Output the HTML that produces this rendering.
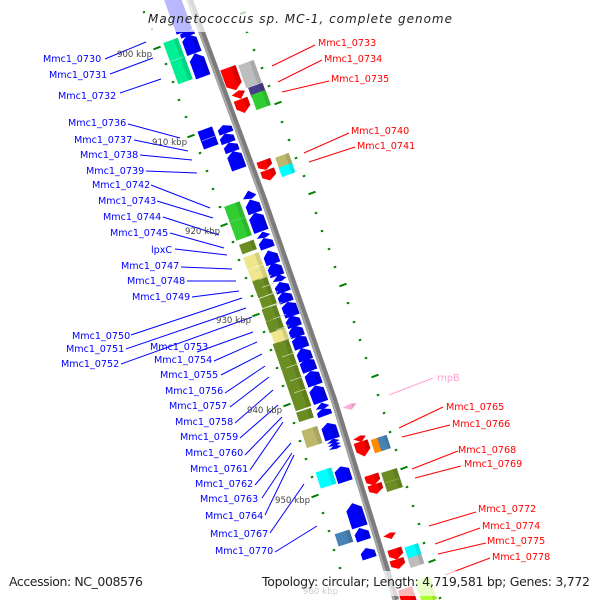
<!DOCTYPE html>
<html><head><meta charset="utf-8"><style>
html,body{margin:0;padding:0;background:#fff}
svg{display:block}
text{font-family:"DejaVu Sans","Liberation Sans",sans-serif}
.l text{font-size:9.6px}
.k text{font-size:8.6px;fill:#444}
</style></head><body>
<svg width="600" height="600" viewBox="0 0 600 600" xmlns="http://www.w3.org/2000/svg">
<defs>
<g id="a"><polygon points="-.54,.5 -.54,-.25 0,-.5 .54,-.25 .54,.5"/><polygon points=".2,.5 .2,-.35 .54,-.25 .54,.5" fill="#000" opacity=".15"/></g>
<g id="s"><polygon points="-.56,.55 -.56,-.1 -.05,-.55 .56,-.1 .56,.55"/><polygon points=".2,.55 .2,-.25 .56,-.1 .56,.55" fill="#000" opacity=".15"/></g>
<g id="t"><polygon points="-.55,.25 .05,-.55 .55,.25 .1,.55"/><polygon points=".2,.5 .1,-.3 .55,.25" fill="#000" opacity=".12"/></g>
<g id="r"><rect x="-.55" y="-.5" width="1.1" height="1"/><rect x=".25" y="-.5" width=".3" height="1" fill="#000" opacity=".1"/></g>
</defs>

<!-- ticks -->
<g stroke="#008000" stroke-width="2" id="ticks" fill="none">
<path d="M143 12.5l2-.7M151 29.5l2-.7M164.800 64.500l2.400-.9M171.800 82.500l2.400-.9M177.800 100.500l2.400-.9M184.800 117.500l2.400-.9M198.800 153.500l2.400-.9M205.800 171.500l2.400-.9M211.800 189.500l2.400-.9M218.800 207.500l2.400-.9M231.800 242.500l2.400-.9M237.800 260.500l2.400-.9M244.800 278.500l2.400-.9M250.800 296.500l2.400-.9M262.800 332.500l2.400-.9M269.800 350.500l2.400-.9M275.800 368.500l2.400-.9M281.800 386.500l2.400-.9M292.800 423.500l2.400-.9M298.800 441.500l2.400-.9M304.800 459.500l2.400-.9M310.800 477.500l2.400-.9M321.800 513.500l2.400-.9M327.800 531.500l2.400-.9M332.800 550.500l2.400-.9M338.800 568.500l2.400-.9"/>
<path d="M245.800 32.500l2.400-.9M252.800 50.500l2.400-.9M260.800 68.500l2.400-.9M267.800 86.500l2.400-.9M280.800 122.500l2.400-.9M287.800 140.500l2.400-.9M294.800 158.500l2.400-.9M302.800 176.500l2.400-.9M314.800 213.500l2.400-.9M320.800 231.500l2.400-.9M327.800 249.500l2.400-.9M333.800 267.500l2.400-.9M346.800 303.500l2.400-.9M352.800 322.500l2.400-.9M358.800 340.500l2.400-.9M364.800 358.500l2.400-.9M376.800 395.500l2.400-.9M382.800 413.500l2.400-.9M388.800 432.500l2.400-.9M394.800 450.500l2.400-.9M405.800 487.500l2.400-.9M411.800 506.500l2.400-.9M417.800 524.500l2.400-.9M422.800 543.500l2.400-.9M438.800 598.500l2.400-.9"/>
<path d="M153.500 49.300l7-2.600M187.500 137.300l7-2.600M220.500 226.300l7-2.600M252.500 316.300l7-2.600M283.500 406.300l7-2.600M311.500 497.300l7-2.600M274.500 104.300l7-2.600M308.500 194.300l7-2.600M339.500 286.300l7-2.600M371.500 377.300l7-2.600M400.500 469.300l7-2.600M428.500 562.300l7-2.600M240 14l6-2"/>
</g>

<!-- axis -->
<path d="M188 -5L264 200L334 400L396 600" fill="none" stroke="#7c7c7c" stroke-width="6.500"/>
<path d="M186 -5L262 200L332 400L394 600" fill="none" stroke="#a8a8a8" stroke-width="2"/>

<!-- genes left, blue -->
<g fill="#0000ff">
<use href="#r" transform="translate(178 14) rotate(-20) scale(15 38)"/>
<use href="#s" transform="translate(187 33) rotate(-20) scale(13 6)"/>
<use href="#a" transform="translate(191 44) rotate(-20) scale(14 20)"/>
<use href="#a" transform="translate(199 65) rotate(-20) scale(14 25)"/>
<use href="#s" transform="translate(225 129) rotate(-20) scale(13 8)"/>
<use href="#s" transform="translate(227 138) rotate(-20) scale(13 9)"/>
<use href="#s" transform="translate(231 147) rotate(-20) scale(13 9)"/>
<use href="#a" transform="translate(236 160) rotate(-20) scale(14 19)"/>
<use href="#t" transform="translate(249 195) rotate(-20) scale(13 8)"/>
<use href="#s" transform="translate(253 206) rotate(-20) scale(13 13)"/>
<use href="#a" transform="translate(258 222) rotate(-20) scale(14 20)"/>
<use href="#t" transform="translate(263 235) rotate(-20) scale(13 6)"/>
<use href="#s" transform="translate(266 243) rotate(-20) scale(13 10)"/>
<use href="#s" transform="translate(271 257) rotate(-20) scale(13 13)"/>
<use href="#s" transform="translate(275 269) rotate(-20) scale(13 13)"/>
<use href="#t" transform="translate(279 278) rotate(-20) scale(13 7)"/>
<use href="#s" transform="translate(282 287) rotate(-20) scale(13 10)"/>
<use href="#s" transform="translate(285 297) rotate(-20) scale(13 10)"/>
<use href="#a" transform="translate(290 309) rotate(-20) scale(14 15)"/>
<use href="#s" transform="translate(293 321) rotate(-20) scale(13 11)"/>
<use href="#s" transform="translate(296 331) rotate(-20) scale(13 11)"/>
<use href="#a" transform="translate(300 342) rotate(-20) scale(14 13)"/>
<use href="#s" transform="translate(304 354) rotate(-20) scale(13 12)"/>
<use href="#a" transform="translate(308 365) rotate(-20) scale(14 13)"/>
<use href="#a" transform="translate(313 378) rotate(-20) scale(14 15)"/>
<use href="#a" transform="translate(318 394) rotate(-20) scale(14 18)"/>
<use href="#t" transform="translate(322 406) rotate(-20) scale(13 6)"/>
<use href="#s" transform="translate(324 412) rotate(-20) scale(13 7)"/>
<use href="#a" transform="translate(330 431) rotate(-18) scale(14 17)"/>
<use href="#t" transform="translate(333 441) rotate(-18) scale(12 4)"/>
<use href="#t" transform="translate(334 444) rotate(-18) scale(12 4)"/>
<use href="#t" transform="translate(335 447) rotate(-18) scale(12 4)"/>
<use href="#a" transform="translate(343 474) rotate(-18) scale(14 16)"/>
<use href="#a" transform="translate(356 515) rotate(-18) scale(15 25)"/>
<use href="#s" transform="translate(362 534) rotate(-18) scale(13 12)"/>
<use href="#s" transform="translate(368 553) rotate(-18) scale(13 10)"/>
</g>

<!-- genes left, rectangles -->
<use href="#r" fill="#00ee94" transform="translate(178 61) rotate(-20) scale(14 44)"/>
<path d="M169 62l14-5" stroke="#7ff0c8" stroke-width=".7"/>
<use href="#r" fill="#0000ff" transform="translate(208 138) rotate(-20) scale(14 19)"/>
<path d="M202 141l13-5" stroke="#9a9aff" stroke-width=".7"/>
<use href="#r" fill="#32cd32" transform="translate(238 221) rotate(-20) scale(15 36)"/>
<path d="M231 222l14-5" stroke="#7fe07f" stroke-width=".5"/>
<use href="#r" fill="#6b8e23" transform="translate(248 247) rotate(-20) scale(14 10)"/>
<use href="#r" fill="#f0e68c" transform="translate(253 261) rotate(-20) scale(15 13)"/>
<use href="#r" fill="#f0e68c" transform="translate(258 274) rotate(-20) scale(15 14)"/>
<use href="#r" fill="#6b8e23" transform="translate(261 283) rotate(-20) scale(14 9)"/>
<use href="#r" fill="#6b8e23" transform="translate(264 291) rotate(-20) scale(14 10)"/>
<use href="#r" fill="#6b8e23" transform="translate(268 301) rotate(-20) scale(14 10)"/>
<use href="#r" fill="#6b8e23" transform="translate(271 313) rotate(-20) scale(14 13)"/>
<use href="#r" fill="#6b8e23" transform="translate(275 325) rotate(-20) scale(14 12)"/>
<use href="#r" fill="#f0e68c" transform="translate(280 336) rotate(-20) scale(14 12)"/>
<use href="#r" fill="#6b8e23" transform="translate(292 375) rotate(-19) scale(15 71)"/>
<g stroke="#c9d6a5" stroke-width=".7">
<path d="M256 271.500l13-4.500M259 279.500l12.500-4.500M262 287.500l12.500-4.500M265 296l13-4.500M269 307l13-4.500M273 319l13-4.500M276 330l13-4.500M279 342l13-4.500"/>
<path d="M282 357l13-4.500M286 368l13-4.500M290 381l13-4.500M294 393l13-4.500"/>
</g>
<use href="#r" fill="#6b8e23" transform="translate(305 415) rotate(-18) scale(14 10)"/>
<use href="#r" fill="#bdb76b" transform="translate(312 437) rotate(-18) scale(15 18)"/>
<use href="#r" fill="#00ffff" transform="translate(326 478) rotate(-18) scale(15 17)"/>
<use href="#r" fill="#4682b4" transform="translate(344 538) rotate(-18) scale(14 13)"/>

<!-- genes right, red -->
<g fill="#ff0000">
<use href="#a" transform="translate(232 79) rotate(-20) scale(15 -24)"/>
<use href="#t" transform="translate(239 95) rotate(-20) scale(13 -8)"/>
<use href="#s" transform="translate(243 106) rotate(-20) scale(13 -13)"/>
<use href="#s" transform="translate(265 165) rotate(-20) scale(13 -9)"/>
<use href="#s" transform="translate(269 175) rotate(-20) scale(13 -10)"/>
<use href="#t" transform="translate(360 439) rotate(-18) scale(12 -6)"/>
<use href="#s" transform="translate(363 449) rotate(-18) scale(13 -14)"/>
<use href="#s" transform="translate(373 480) rotate(-18) scale(13 -10)"/>
<use href="#s" transform="translate(376 489) rotate(-18) scale(13 -9)"/>
<use href="#t" transform="translate(390 536) rotate(-18) scale(12 -6)"/>
<use href="#s" transform="translate(396 554) rotate(-18) scale(13 -10)"/>
<use href="#s" transform="translate(398 564) rotate(-18) scale(13 -9)"/>
<use href="#a" transform="translate(408 598) rotate(-18) scale(14 -20)"/>
</g>
<use href="#t" fill="#ffb0dc" transform="translate(350 407) rotate(-18) scale(13 -6)"/>

<!-- genes right, rectangles -->
<use href="#r" fill="#bdbdbd" transform="translate(250 74) rotate(-20) scale(15 24)"/>
<use href="#r" fill="#483d8b" transform="translate(257 90) rotate(-20) scale(14 10)"/>
<use href="#r" fill="#32cd32" transform="translate(261 100) rotate(-20) scale(14 16)"/>
<use href="#r" fill="#bdb76b" transform="translate(284 161) rotate(-20) scale(13 12)"/>
<use href="#r" fill="#00ffff" transform="translate(287 170) rotate(-20) scale(13 10)"/>
<use href="#r" fill="#ff8c00" transform="translate(378 445) rotate(-18) scale(10 14)"/>
<use href="#r" fill="#4682b4" transform="translate(384 443) rotate(-18) scale(9 14)"/>
<use href="#r" fill="#6b8e23" transform="translate(392 480) rotate(-18) scale(15 20)"/>
<path d="M385 483l14-4.500" stroke="#a9bd72" stroke-width=".5"/>
<use href="#r" fill="#00ffff" transform="translate(413 551) rotate(-18) scale(13 12)"/>
<use href="#r" fill="#bdbdbd" transform="translate(416 561) rotate(-18) scale(13 10)"/>
<use href="#r" fill="#adff2f" transform="translate(426 590) rotate(-18) scale(14 24)"/>

<!-- leader lines -->
<g stroke="#0000ff" stroke-width="1" fill="none">
<path d="M105 59L146 42M110 74L153 58M120 93L161 79M128 124L180 138M134 140L188 151M140 155L192 160M146 171L197 173M151 185L210 208M157 201L213 218M163 217L219 235M170 233L224 248M175 249L227 255M181 267L232 269M187 281L236 281M192 297L239 291M131 335L242 298M126 349L246 308M121 364L252 317M197 352L253 332M214 361L257 342M221 375L262 354M225 393L265 366M230 407L269 377M235 423L273 390M240 438L278 405M245 455L282 417M250 470L283 422M255 485L291 443M262 498L292 453M265 515L294 455M270 533L304 484M275 552L317 526"/>
</g>
<g stroke="#ff0000" stroke-width="1" fill="none">
<path d="M272 66L315 45M278 82L322 60M282 92L329 81M304 153L349 133M309 162L355 147M399 428L443 407M402 437L450 425M412 469L458 451M415 478L461 466M429 526L476 512M435 544L480 528M438 554L486 543M445 575L490 558"/>
</g>
<path d="M389 395L433 378" stroke="#ff9ecf" stroke-width="1" fill="none"/>

<!-- kbp labels -->
<g class="k">
<text x="117" y="57">900 kbp</text>
<text x="152" y="145">910 kbp</text>
<text x="185" y="234">920 kbp</text>
<text x="216" y="323">930 kbp</text>
<text x="247" y="413">940 kbp</text>
<text x="275" y="503">950 kbp</text>
<text x="303" y="594">960 kbp</text>
</g>

<!-- bands -->
<rect x="145" y="0" width="310" height="32" fill="#fff" opacity=".72"/>
<rect x="258" y="571" width="336" height="25" fill="#fff" opacity=".72"/>

<!-- labels -->
<g class="l" fill="#0000ff" transform="translate(0 -1)">
<text x="43" y="63">Mmc1_0730</text>
<text x="49" y="79">Mmc1_0731</text>
<text x="58" y="100">Mmc1_0732</text>
<text x="68" y="127">Mmc1_0736</text>
<text x="74" y="144">Mmc1_0737</text>
<text x="80" y="159">Mmc1_0738</text>
<text x="86" y="175">Mmc1_0739</text>
<text x="92" y="189">Mmc1_0742</text>
<text x="98" y="205">Mmc1_0743</text>
<text x="103" y="221">Mmc1_0744</text>
<text x="110" y="237">Mmc1_0745</text>
<text x="151" y="254">lpxC</text>
<text x="121" y="270">Mmc1_0747</text>
<text x="127" y="285">Mmc1_0748</text>
<text x="132" y="301">Mmc1_0749</text>
<text x="72" y="340">Mmc1_0750</text>
<text x="66" y="353">Mmc1_0751</text>
<text x="61" y="368">Mmc1_0752</text>
<text x="150" y="351">Mmc1_0753</text>
<text x="154" y="364">Mmc1_0754</text>
<text x="160" y="379">Mmc1_0755</text>
<text x="165" y="395">Mmc1_0756</text>
<text x="169" y="410">Mmc1_0757</text>
<text x="175" y="426">Mmc1_0758</text>
<text x="180" y="441">Mmc1_0759</text>
<text x="185" y="457">Mmc1_0760</text>
<text x="190" y="473">Mmc1_0761</text>
<text x="195" y="488">Mmc1_0762</text>
<text x="200" y="503">Mmc1_0763</text>
<text x="205" y="520">Mmc1_0764</text>
<text x="210" y="538">Mmc1_0767</text>
<text x="215" y="555">Mmc1_0770</text>
</g>
<g class="l" fill="#ff0000" transform="translate(0 -1)">
<text x="318" y="47">Mmc1_0733</text>
<text x="324" y="63">Mmc1_0734</text>
<text x="331" y="83">Mmc1_0735</text>
<text x="351" y="135">Mmc1_0740</text>
<text x="357" y="150">Mmc1_0741</text>
<text x="446" y="411">Mmc1_0765</text>
<text x="452" y="428">Mmc1_0766</text>
<text x="458" y="454">Mmc1_0768</text>
<text x="464" y="468">Mmc1_0769</text>
<text x="478" y="513">Mmc1_0772</text>
<text x="482" y="530">Mmc1_0774</text>
<text x="487" y="545">Mmc1_0775</text>
<text x="492" y="561">Mmc1_0778</text>
</g>
<text x="437" y="381" fill="#ff9ecf" style="font-size:9.6px">rnpB</text>

<text x="148" y="23" font-size="12" font-style="italic" fill="#222" textLength="304" lengthAdjust="spacing">Magnetococcus sp. MC-1, complete genome</text>
<text x="9" y="586" font-size="12.500" fill="#222" textLength="134" lengthAdjust="spacing">Accession: NC_008576</text>
<text x="262" y="586" font-size="12.500" fill="#222" textLength="328" lengthAdjust="spacing">Topology: circular; Length: 4,719,581 bp; Genes: 3,772</text>
</svg>
</body></html>
